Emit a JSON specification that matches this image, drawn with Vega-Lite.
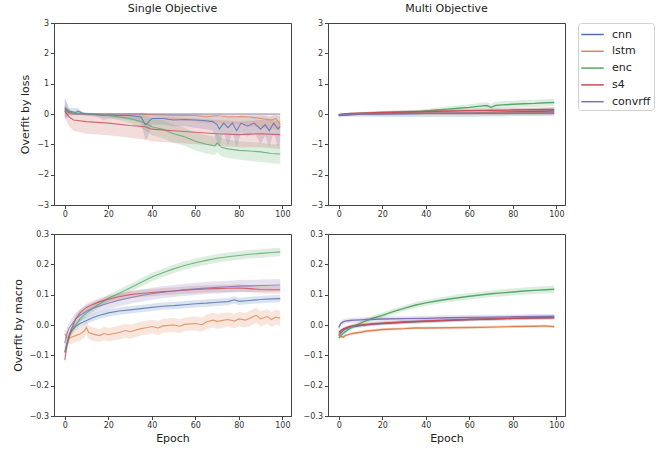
{
"$schema": "https://vega.github.io/schema/vega-lite/v6.json",
"padding": {"left": 11, "top": 2, "right": 5, "bottom": 5},
"background": "white",
"data": {"values": [
{"p":"sl","m":"cnn","e":0,"y":0.2,"lo":-0.15,"hi":0.5},
{"p":"sl","m":"cnn","e":2,"y":0.1,"lo":0.0,"hi":0.2},
{"p":"sl","m":"cnn","e":5,"y":0.05,"lo":-0.02,"hi":0.2},
{"p":"sl","m":"cnn","e":6,"y":0.1,"lo":0.0,"hi":0.2},
{"p":"sl","m":"cnn","e":8,"y":0.03,"lo":-0.03,"hi":0.08},
{"p":"sl","m":"cnn","e":10,"y":0.0,"lo":-0.05,"hi":0.05},
{"p":"sl","m":"cnn","e":15,"y":-0.02,"lo":-0.1,"hi":0.03},
{"p":"sl","m":"cnn","e":18,"y":-0.05,"lo":-0.2,"hi":0.02},
{"p":"sl","m":"cnn","e":20,"y":-0.03,"lo":-0.15,"hi":0.03},
{"p":"sl","m":"cnn","e":25,"y":-0.05,"lo":-0.15,"hi":0.02},
{"p":"sl","m":"cnn","e":30,"y":-0.05,"lo":-0.2,"hi":0.02},
{"p":"sl","m":"cnn","e":35,"y":-0.1,"lo":-0.3,"hi":0.03},
{"p":"sl","m":"cnn","e":37,"y":-0.35,"lo":-0.85,"hi":0.03},
{"p":"sl","m":"cnn","e":38,"y":-0.3,"lo":-0.8,"hi":0.0},
{"p":"sl","m":"cnn","e":40,"y":-0.15,"lo":-0.35,"hi":0.0},
{"p":"sl","m":"cnn","e":45,"y":-0.15,"lo":-0.35,"hi":0.0},
{"p":"sl","m":"cnn","e":50,"y":-0.2,"lo":-0.4,"hi":0.0},
{"p":"sl","m":"cnn","e":55,"y":-0.18,"lo":-0.4,"hi":0.0},
{"p":"sl","m":"cnn","e":60,"y":-0.2,"lo":-0.45,"hi":-0.02},
{"p":"sl","m":"cnn","e":65,"y":-0.22,"lo":-0.5,"hi":-0.02},
{"p":"sl","m":"cnn","e":68,"y":-0.25,"lo":-0.55,"hi":-0.03},
{"p":"sl","m":"cnn","e":70,"y":-0.35,"lo":-0.9,"hi":-0.05},
{"p":"sl","m":"cnn","e":71,"y":-0.5,"lo":-1.1,"hi":-0.1},
{"p":"sl","m":"cnn","e":73,"y":-0.3,"lo":-0.6,"hi":-0.05},
{"p":"sl","m":"cnn","e":75,"y":-0.45,"lo":-1.05,"hi":-0.05},
{"p":"sl","m":"cnn","e":77,"y":-0.3,"lo":-0.6,"hi":-0.05},
{"p":"sl","m":"cnn","e":79,"y":-0.55,"lo":-1.1,"hi":-0.1},
{"p":"sl","m":"cnn","e":81,"y":-0.3,"lo":-0.6,"hi":-0.05},
{"p":"sl","m":"cnn","e":84,"y":-0.4,"lo":-0.75,"hi":-0.05},
{"p":"sl","m":"cnn","e":87,"y":-0.3,"lo":-0.6,"hi":-0.05},
{"p":"sl","m":"cnn","e":90,"y":-0.5,"lo":-1.0,"hi":-0.05},
{"p":"sl","m":"cnn","e":92,"y":-0.35,"lo":-0.7,"hi":-0.05},
{"p":"sl","m":"cnn","e":94,"y":-0.55,"lo":-1.1,"hi":-0.1},
{"p":"sl","m":"cnn","e":96,"y":-0.3,"lo":-0.6,"hi":-0.05},
{"p":"sl","m":"cnn","e":98,"y":-0.5,"lo":-1.1,"hi":-0.05},
{"p":"sl","m":"cnn","e":99,"y":-0.4,"lo":-0.9,"hi":0.0},
{"p":"sl","m":"lstm","e":0,"y":0.1,"lo":-0.05,"hi":0.25},
{"p":"sl","m":"lstm","e":3,"y":0.0,"lo":-0.05,"hi":0.05},
{"p":"sl","m":"lstm","e":10,"y":0.0,"lo":-0.05,"hi":0.03},
{"p":"sl","m":"lstm","e":20,"y":0.0,"lo":-0.05,"hi":0.02},
{"p":"sl","m":"lstm","e":30,"y":0.0,"lo":-0.08,"hi":0.02},
{"p":"sl","m":"lstm","e":40,"y":-0.02,"lo":-0.1,"hi":0.02},
{"p":"sl","m":"lstm","e":50,"y":-0.05,"lo":-0.2,"hi":0.02},
{"p":"sl","m":"lstm","e":60,"y":-0.05,"lo":-0.25,"hi":0.02},
{"p":"sl","m":"lstm","e":65,"y":-0.1,"lo":-0.3,"hi":0.0},
{"p":"sl","m":"lstm","e":70,"y":-0.05,"lo":-0.3,"hi":0.02},
{"p":"sl","m":"lstm","e":75,"y":-0.1,"lo":-0.35,"hi":0.0},
{"p":"sl","m":"lstm","e":80,"y":-0.08,"lo":-0.35,"hi":0.0},
{"p":"sl","m":"lstm","e":85,"y":-0.1,"lo":-0.4,"hi":0.0},
{"p":"sl","m":"lstm","e":90,"y":-0.15,"lo":-0.45,"hi":0.0},
{"p":"sl","m":"lstm","e":95,"y":-0.2,"lo":-0.5,"hi":0.0},
{"p":"sl","m":"lstm","e":97,"y":-0.15,"lo":-0.5,"hi":0.0},
{"p":"sl","m":"lstm","e":99,"y":-0.35,"lo":-0.55,"hi":-0.1},
{"p":"sl","m":"enc","e":0,"y":0.15,"lo":0.0,"hi":0.3},
{"p":"sl","m":"enc","e":3,"y":0.05,"lo":0.0,"hi":0.1},
{"p":"sl","m":"enc","e":10,"y":0.0,"lo":-0.05,"hi":0.03},
{"p":"sl","m":"enc","e":20,"y":-0.05,"lo":-0.12,"hi":0.0},
{"p":"sl","m":"enc","e":30,"y":-0.15,"lo":-0.3,"hi":-0.02},
{"p":"sl","m":"enc","e":35,"y":-0.25,"lo":-0.45,"hi":-0.05},
{"p":"sl","m":"enc","e":38,"y":-0.35,"lo":-0.6,"hi":-0.1},
{"p":"sl","m":"enc","e":40,"y":-0.42,"lo":-0.7,"hi":-0.15},
{"p":"sl","m":"enc","e":45,"y":-0.5,"lo":-0.8,"hi":-0.2},
{"p":"sl","m":"enc","e":50,"y":-0.65,"lo":-0.95,"hi":-0.35},
{"p":"sl","m":"enc","e":55,"y":-0.75,"lo":-1.05,"hi":-0.45},
{"p":"sl","m":"enc","e":60,"y":-0.9,"lo":-1.2,"hi":-0.6},
{"p":"sl","m":"enc","e":65,"y":-1.0,"lo":-1.3,"hi":-0.7},
{"p":"sl","m":"enc","e":69,"y":-1.05,"lo":-1.35,"hi":-0.75},
{"p":"sl","m":"enc","e":70,"y":-0.95,"lo":-1.25,"hi":-0.65},
{"p":"sl","m":"enc","e":72,"y":-1.1,"lo":-1.4,"hi":-0.8},
{"p":"sl","m":"enc","e":75,"y":-1.15,"lo":-1.45,"hi":-0.85},
{"p":"sl","m":"enc","e":80,"y":-1.2,"lo":-1.5,"hi":-0.9},
{"p":"sl","m":"enc","e":85,"y":-1.22,"lo":-1.55,"hi":-0.92},
{"p":"sl","m":"enc","e":90,"y":-1.25,"lo":-1.58,"hi":-0.95},
{"p":"sl","m":"enc","e":95,"y":-1.3,"lo":-1.62,"hi":-1.0},
{"p":"sl","m":"enc","e":99,"y":-1.32,"lo":-1.65,"hi":-1.0},
{"p":"sl","m":"s4","e":0,"y":0.1,"lo":-0.1,"hi":0.3},
{"p":"sl","m":"s4","e":2,"y":-0.1,"lo":-0.4,"hi":0.05},
{"p":"sl","m":"s4","e":4,"y":-0.2,"lo":-0.55,"hi":0.0},
{"p":"sl","m":"s4","e":10,"y":-0.25,"lo":-0.65,"hi":-0.02},
{"p":"sl","m":"s4","e":20,"y":-0.3,"lo":-0.7,"hi":-0.03},
{"p":"sl","m":"s4","e":30,"y":-0.38,"lo":-0.78,"hi":-0.05},
{"p":"sl","m":"s4","e":37,"y":-0.42,"lo":-0.85,"hi":-0.05},
{"p":"sl","m":"s4","e":40,"y":-0.5,"lo":-0.9,"hi":-0.08},
{"p":"sl","m":"s4","e":50,"y":-0.55,"lo":-0.95,"hi":-0.1},
{"p":"sl","m":"s4","e":60,"y":-0.6,"lo":-1.0,"hi":-0.15},
{"p":"sl","m":"s4","e":70,"y":-0.65,"lo":-1.05,"hi":-0.2},
{"p":"sl","m":"s4","e":80,"y":-0.68,"lo":-1.1,"hi":-0.25},
{"p":"sl","m":"s4","e":90,"y":-0.65,"lo":-1.1,"hi":-0.2},
{"p":"sl","m":"s4","e":99,"y":-0.68,"lo":-1.15,"hi":-0.22},
{"p":"sl","m":"convrff","e":0,"y":0.15,"lo":-0.2,"hi":0.55},
{"p":"sl","m":"convrff","e":2,"y":0.05,"lo":-0.05,"hi":0.15},
{"p":"sl","m":"convrff","e":5,"y":0.0,"lo":-0.02,"hi":0.03},
{"p":"sl","m":"convrff","e":20,"y":0.0,"lo":-0.01,"hi":0.01},
{"p":"sl","m":"convrff","e":40,"y":0.0,"lo":-0.01,"hi":0.01},
{"p":"sl","m":"convrff","e":60,"y":0.0,"lo":-0.01,"hi":0.01},
{"p":"sl","m":"convrff","e":80,"y":0.0,"lo":-0.01,"hi":0.01},
{"p":"sl","m":"convrff","e":99,"y":0.0,"lo":-0.01,"hi":0.01},

{"p":"ml","m":"cnn","e":0,"y":-0.05,"lo":-0.1,"hi":0.0},
{"p":"ml","m":"cnn","e":10,"y":0.0,"lo":-0.08,"hi":0.06},
{"p":"ml","m":"cnn","e":20,"y":0.01,"lo":-0.1,"hi":0.1},
{"p":"ml","m":"cnn","e":40,"y":0.02,"lo":-0.1,"hi":0.12},
{"p":"ml","m":"cnn","e":60,"y":0.03,"lo":-0.1,"hi":0.13},
{"p":"ml","m":"cnn","e":70,"y":0.05,"lo":-0.08,"hi":0.15},
{"p":"ml","m":"cnn","e":80,"y":0.07,"lo":-0.07,"hi":0.18},
{"p":"ml","m":"cnn","e":90,"y":0.08,"lo":-0.07,"hi":0.2},
{"p":"ml","m":"cnn","e":99,"y":0.1,"lo":-0.06,"hi":0.22},
{"p":"ml","m":"lstm","e":0,"y":-0.02,"lo":-0.05,"hi":0.01},
{"p":"ml","m":"lstm","e":20,"y":0.02,"lo":-0.03,"hi":0.06},
{"p":"ml","m":"lstm","e":40,"y":0.03,"lo":-0.03,"hi":0.08},
{"p":"ml","m":"lstm","e":60,"y":0.03,"lo":-0.03,"hi":0.08},
{"p":"ml","m":"lstm","e":80,"y":0.04,"lo":-0.02,"hi":0.1},
{"p":"ml","m":"lstm","e":99,"y":0.05,"lo":-0.02,"hi":0.12},
{"p":"ml","m":"enc","e":0,"y":-0.02,"lo":-0.05,"hi":0.01},
{"p":"ml","m":"enc","e":10,"y":0.02,"lo":-0.01,"hi":0.05},
{"p":"ml","m":"enc","e":20,"y":0.04,"lo":0.0,"hi":0.08},
{"p":"ml","m":"enc","e":30,"y":0.06,"lo":0.01,"hi":0.11},
{"p":"ml","m":"enc","e":37,"y":0.08,"lo":0.02,"hi":0.14},
{"p":"ml","m":"enc","e":45,"y":0.13,"lo":0.05,"hi":0.21},
{"p":"ml","m":"enc","e":50,"y":0.16,"lo":0.07,"hi":0.25},
{"p":"ml","m":"enc","e":55,"y":0.19,"lo":0.09,"hi":0.29},
{"p":"ml","m":"enc","e":60,"y":0.22,"lo":0.11,"hi":0.32},
{"p":"ml","m":"enc","e":65,"y":0.26,"lo":0.14,"hi":0.37},
{"p":"ml","m":"enc","e":68,"y":0.28,"lo":0.16,"hi":0.39},
{"p":"ml","m":"enc","e":70,"y":0.22,"lo":0.11,"hi":0.33},
{"p":"ml","m":"enc","e":72,"y":0.28,"lo":0.16,"hi":0.4},
{"p":"ml","m":"enc","e":75,"y":0.3,"lo":0.18,"hi":0.42},
{"p":"ml","m":"enc","e":80,"y":0.32,"lo":0.2,"hi":0.44},
{"p":"ml","m":"enc","e":85,"y":0.34,"lo":0.22,"hi":0.46},
{"p":"ml","m":"enc","e":90,"y":0.35,"lo":0.23,"hi":0.47},
{"p":"ml","m":"enc","e":95,"y":0.37,"lo":0.25,"hi":0.49},
{"p":"ml","m":"enc","e":99,"y":0.38,"lo":0.26,"hi":0.5},
{"p":"ml","m":"s4","e":0,"y":-0.02,"lo":-0.05,"hi":0.01},
{"p":"ml","m":"s4","e":5,"y":0.02,"lo":-0.02,"hi":0.05},
{"p":"ml","m":"s4","e":10,"y":0.03,"lo":-0.01,"hi":0.07},
{"p":"ml","m":"s4","e":20,"y":0.05,"lo":0.0,"hi":0.1},
{"p":"ml","m":"s4","e":40,"y":0.08,"lo":0.02,"hi":0.14},
{"p":"ml","m":"s4","e":60,"y":0.11,"lo":0.04,"hi":0.18},
{"p":"ml","m":"s4","e":80,"y":0.13,"lo":0.06,"hi":0.2},
{"p":"ml","m":"s4","e":99,"y":0.15,"lo":0.08,"hi":0.22},
{"p":"ml","m":"convrff","e":0,"y":-0.03,"lo":-0.06,"hi":0.0},
{"p":"ml","m":"convrff","e":10,"y":0.0,"lo":-0.05,"hi":0.04},
{"p":"ml","m":"convrff","e":40,"y":0.02,"lo":-0.04,"hi":0.07},
{"p":"ml","m":"convrff","e":70,"y":0.02,"lo":-0.04,"hi":0.08},
{"p":"ml","m":"convrff","e":99,"y":0.03,"lo":-0.04,"hi":0.09},

{"p":"sm","m":"cnn","e":0,"y":-0.09,"lo":-0.105,"hi":-0.075},
{"p":"sm","m":"cnn","e":1,"y":-0.06,"lo":-0.073,"hi":-0.047},
{"p":"sm","m":"cnn","e":2,"y":-0.035,"lo":-0.047,"hi":-0.023},
{"p":"sm","m":"cnn","e":3,"y":-0.02,"lo":-0.032,"hi":-0.008},
{"p":"sm","m":"cnn","e":5,"y":-0.005,"lo":-0.017,"hi":0.007},
{"p":"sm","m":"cnn","e":7,"y":0.005,"lo":-0.007,"hi":0.017},
{"p":"sm","m":"cnn","e":10,"y":0.015,"lo":0.003,"hi":0.027},
{"p":"sm","m":"cnn","e":13,"y":0.025,"lo":0.013,"hi":0.037},
{"p":"sm","m":"cnn","e":16,"y":0.032,"lo":0.02,"hi":0.044},
{"p":"sm","m":"cnn","e":20,"y":0.04,"lo":0.028,"hi":0.052},
{"p":"sm","m":"cnn","e":25,"y":0.046,"lo":0.034,"hi":0.058},
{"p":"sm","m":"cnn","e":30,"y":0.05,"lo":0.038,"hi":0.062},
{"p":"sm","m":"cnn","e":35,"y":0.054,"lo":0.042,"hi":0.066},
{"p":"sm","m":"cnn","e":40,"y":0.058,"lo":0.046,"hi":0.07},
{"p":"sm","m":"cnn","e":45,"y":0.062,"lo":0.05,"hi":0.074},
{"p":"sm","m":"cnn","e":50,"y":0.064,"lo":0.052,"hi":0.076},
{"p":"sm","m":"cnn","e":55,"y":0.067,"lo":0.055,"hi":0.079},
{"p":"sm","m":"cnn","e":60,"y":0.07,"lo":0.058,"hi":0.082},
{"p":"sm","m":"cnn","e":65,"y":0.072,"lo":0.06,"hi":0.084},
{"p":"sm","m":"cnn","e":70,"y":0.075,"lo":0.063,"hi":0.087},
{"p":"sm","m":"cnn","e":75,"y":0.077,"lo":0.065,"hi":0.089},
{"p":"sm","m":"cnn","e":78,"y":0.083,"lo":0.071,"hi":0.095},
{"p":"sm","m":"cnn","e":80,"y":0.078,"lo":0.066,"hi":0.09},
{"p":"sm","m":"cnn","e":85,"y":0.081,"lo":0.069,"hi":0.093},
{"p":"sm","m":"cnn","e":90,"y":0.084,"lo":0.072,"hi":0.096},
{"p":"sm","m":"cnn","e":95,"y":0.086,"lo":0.074,"hi":0.098},
{"p":"sm","m":"cnn","e":99,"y":0.087,"lo":0.075,"hi":0.099},
{"p":"sm","m":"lstm","e":0,"y":-0.03,"lo":-0.045,"hi":-0.015},
{"p":"sm","m":"lstm","e":1,"y":-0.04,"lo":-0.058,"hi":-0.022},
{"p":"sm","m":"lstm","e":2,"y":-0.045,"lo":-0.065,"hi":-0.025},
{"p":"sm","m":"lstm","e":3,"y":-0.04,"lo":-0.062,"hi":-0.018},
{"p":"sm","m":"lstm","e":5,"y":-0.035,"lo":-0.057,"hi":-0.013},
{"p":"sm","m":"lstm","e":7,"y":-0.03,"lo":-0.052,"hi":-0.008},
{"p":"sm","m":"lstm","e":9,"y":-0.02,"lo":-0.042,"hi":0.002},
{"p":"sm","m":"lstm","e":10,"y":-0.008,"lo":-0.03,"hi":0.014},
{"p":"sm","m":"lstm","e":11,"y":-0.025,"lo":-0.047,"hi":-0.003},
{"p":"sm","m":"lstm","e":13,"y":-0.03,"lo":-0.052,"hi":-0.008},
{"p":"sm","m":"lstm","e":16,"y":-0.035,"lo":-0.057,"hi":-0.013},
{"p":"sm","m":"lstm","e":18,"y":-0.028,"lo":-0.05,"hi":-0.006},
{"p":"sm","m":"lstm","e":20,"y":-0.032,"lo":-0.054,"hi":-0.01},
{"p":"sm","m":"lstm","e":25,"y":-0.025,"lo":-0.048,"hi":-0.002},
{"p":"sm","m":"lstm","e":28,"y":-0.018,"lo":-0.041,"hi":0.005},
{"p":"sm","m":"lstm","e":30,"y":-0.022,"lo":-0.045,"hi":0.001},
{"p":"sm","m":"lstm","e":35,"y":-0.012,"lo":-0.035,"hi":0.011},
{"p":"sm","m":"lstm","e":38,"y":-0.008,"lo":-0.031,"hi":0.015},
{"p":"sm","m":"lstm","e":40,"y":-0.005,"lo":-0.028,"hi":0.018},
{"p":"sm","m":"lstm","e":43,"y":-0.01,"lo":-0.033,"hi":0.013},
{"p":"sm","m":"lstm","e":45,"y":-0.003,"lo":-0.026,"hi":0.02},
{"p":"sm","m":"lstm","e":50,"y":0.0,"lo":-0.023,"hi":0.023},
{"p":"sm","m":"lstm","e":53,"y":-0.004,"lo":-0.027,"hi":0.019},
{"p":"sm","m":"lstm","e":55,"y":0.002,"lo":-0.021,"hi":0.025},
{"p":"sm","m":"lstm","e":60,"y":0.005,"lo":-0.018,"hi":0.028},
{"p":"sm","m":"lstm","e":63,"y":0.001,"lo":-0.022,"hi":0.024},
{"p":"sm","m":"lstm","e":65,"y":0.01,"lo":-0.014,"hi":0.034},
{"p":"sm","m":"lstm","e":68,"y":0.016,"lo":-0.008,"hi":0.04},
{"p":"sm","m":"lstm","e":70,"y":0.012,"lo":-0.012,"hi":0.036},
{"p":"sm","m":"lstm","e":75,"y":0.018,"lo":-0.006,"hi":0.042},
{"p":"sm","m":"lstm","e":78,"y":0.013,"lo":-0.011,"hi":0.037},
{"p":"sm","m":"lstm","e":80,"y":0.02,"lo":-0.004,"hi":0.044},
{"p":"sm","m":"lstm","e":83,"y":0.016,"lo":-0.008,"hi":0.04},
{"p":"sm","m":"lstm","e":85,"y":0.022,"lo":-0.003,"hi":0.047},
{"p":"sm","m":"lstm","e":88,"y":0.032,"lo":0.007,"hi":0.057},
{"p":"sm","m":"lstm","e":90,"y":0.02,"lo":-0.005,"hi":0.045},
{"p":"sm","m":"lstm","e":93,"y":0.028,"lo":0.003,"hi":0.053},
{"p":"sm","m":"lstm","e":95,"y":0.018,"lo":-0.007,"hi":0.043},
{"p":"sm","m":"lstm","e":97,"y":0.026,"lo":0.001,"hi":0.051},
{"p":"sm","m":"lstm","e":99,"y":0.022,"lo":-0.003,"hi":0.047},
{"p":"sm","m":"enc","e":0,"y":-0.09,"lo":-0.1,"hi":-0.08},
{"p":"sm","m":"enc","e":1,"y":-0.06,"lo":-0.07,"hi":-0.05},
{"p":"sm","m":"enc","e":2,"y":-0.04,"lo":-0.05,"hi":-0.03},
{"p":"sm","m":"enc","e":3,"y":-0.02,"lo":-0.03,"hi":-0.01},
{"p":"sm","m":"enc","e":5,"y":0.0,"lo":-0.01,"hi":0.01},
{"p":"sm","m":"enc","e":7,"y":0.02,"lo":0.01,"hi":0.03},
{"p":"sm","m":"enc","e":10,"y":0.04,"lo":0.029,"hi":0.051},
{"p":"sm","m":"enc","e":13,"y":0.055,"lo":0.044,"hi":0.066},
{"p":"sm","m":"enc","e":16,"y":0.07,"lo":0.058,"hi":0.082},
{"p":"sm","m":"enc","e":20,"y":0.088,"lo":0.076,"hi":0.1},
{"p":"sm","m":"enc","e":25,"y":0.105,"lo":0.092,"hi":0.118},
{"p":"sm","m":"enc","e":30,"y":0.122,"lo":0.109,"hi":0.135},
{"p":"sm","m":"enc","e":35,"y":0.14,"lo":0.127,"hi":0.153},
{"p":"sm","m":"enc","e":40,"y":0.158,"lo":0.144,"hi":0.172},
{"p":"sm","m":"enc","e":45,"y":0.172,"lo":0.158,"hi":0.186},
{"p":"sm","m":"enc","e":50,"y":0.185,"lo":0.171,"hi":0.199},
{"p":"sm","m":"enc","e":55,"y":0.196,"lo":0.182,"hi":0.21},
{"p":"sm","m":"enc","e":60,"y":0.205,"lo":0.191,"hi":0.219},
{"p":"sm","m":"enc","e":65,"y":0.213,"lo":0.199,"hi":0.227},
{"p":"sm","m":"enc","e":70,"y":0.22,"lo":0.206,"hi":0.234},
{"p":"sm","m":"enc","e":75,"y":0.225,"lo":0.211,"hi":0.239},
{"p":"sm","m":"enc","e":80,"y":0.229,"lo":0.215,"hi":0.243},
{"p":"sm","m":"enc","e":85,"y":0.233,"lo":0.219,"hi":0.247},
{"p":"sm","m":"enc","e":90,"y":0.236,"lo":0.222,"hi":0.25},
{"p":"sm","m":"enc","e":95,"y":0.239,"lo":0.225,"hi":0.253},
{"p":"sm","m":"enc","e":99,"y":0.241,"lo":0.227,"hi":0.255},
{"p":"sm","m":"s4","e":0,"y":-0.115,"lo":-0.13,"hi":-0.1},
{"p":"sm","m":"s4","e":1,"y":-0.07,"lo":-0.083,"hi":-0.057},
{"p":"sm","m":"s4","e":2,"y":-0.04,"lo":-0.053,"hi":-0.027},
{"p":"sm","m":"s4","e":3,"y":-0.015,"lo":-0.027,"hi":-0.003},
{"p":"sm","m":"s4","e":5,"y":0.02,"lo":0.008,"hi":0.032},
{"p":"sm","m":"s4","e":7,"y":0.04,"lo":0.028,"hi":0.052},
{"p":"sm","m":"s4","e":10,"y":0.058,"lo":0.046,"hi":0.07},
{"p":"sm","m":"s4","e":13,"y":0.068,"lo":0.056,"hi":0.08},
{"p":"sm","m":"s4","e":16,"y":0.077,"lo":0.065,"hi":0.089},
{"p":"sm","m":"s4","e":20,"y":0.085,"lo":0.073,"hi":0.097},
{"p":"sm","m":"s4","e":25,"y":0.093,"lo":0.081,"hi":0.105},
{"p":"sm","m":"s4","e":30,"y":0.1,"lo":0.088,"hi":0.112},
{"p":"sm","m":"s4","e":35,"y":0.104,"lo":0.092,"hi":0.116},
{"p":"sm","m":"s4","e":40,"y":0.107,"lo":0.095,"hi":0.119},
{"p":"sm","m":"s4","e":45,"y":0.11,"lo":0.098,"hi":0.122},
{"p":"sm","m":"s4","e":50,"y":0.112,"lo":0.1,"hi":0.124},
{"p":"sm","m":"s4","e":55,"y":0.115,"lo":0.103,"hi":0.127},
{"p":"sm","m":"s4","e":60,"y":0.117,"lo":0.105,"hi":0.129},
{"p":"sm","m":"s4","e":65,"y":0.119,"lo":0.107,"hi":0.131},
{"p":"sm","m":"s4","e":70,"y":0.12,"lo":0.108,"hi":0.132},
{"p":"sm","m":"s4","e":75,"y":0.121,"lo":0.109,"hi":0.133},
{"p":"sm","m":"s4","e":80,"y":0.122,"lo":0.11,"hi":0.134},
{"p":"sm","m":"s4","e":85,"y":0.12,"lo":0.108,"hi":0.132},
{"p":"sm","m":"s4","e":90,"y":0.117,"lo":0.105,"hi":0.129},
{"p":"sm","m":"s4","e":95,"y":0.116,"lo":0.104,"hi":0.128},
{"p":"sm","m":"s4","e":99,"y":0.116,"lo":0.104,"hi":0.128},
{"p":"sm","m":"convrff","e":0,"y":-0.06,"lo":-0.08,"hi":-0.04},
{"p":"sm","m":"convrff","e":1,"y":-0.03,"lo":-0.05,"hi":-0.01},
{"p":"sm","m":"convrff","e":2,"y":-0.01,"lo":-0.03,"hi":0.01},
{"p":"sm","m":"convrff","e":3,"y":0.0,"lo":-0.02,"hi":0.02},
{"p":"sm","m":"convrff","e":5,"y":0.02,"lo":0.0,"hi":0.04},
{"p":"sm","m":"convrff","e":7,"y":0.032,"lo":0.012,"hi":0.052},
{"p":"sm","m":"convrff","e":10,"y":0.045,"lo":0.025,"hi":0.065},
{"p":"sm","m":"convrff","e":13,"y":0.055,"lo":0.035,"hi":0.075},
{"p":"sm","m":"convrff","e":16,"y":0.063,"lo":0.043,"hi":0.083},
{"p":"sm","m":"convrff","e":20,"y":0.072,"lo":0.052,"hi":0.092},
{"p":"sm","m":"convrff","e":25,"y":0.082,"lo":0.062,"hi":0.102},
{"p":"sm","m":"convrff","e":30,"y":0.09,"lo":0.07,"hi":0.11},
{"p":"sm","m":"convrff","e":35,"y":0.097,"lo":0.077,"hi":0.117},
{"p":"sm","m":"convrff","e":40,"y":0.103,"lo":0.083,"hi":0.123},
{"p":"sm","m":"convrff","e":45,"y":0.108,"lo":0.088,"hi":0.128},
{"p":"sm","m":"convrff","e":50,"y":0.112,"lo":0.092,"hi":0.132},
{"p":"sm","m":"convrff","e":55,"y":0.116,"lo":0.096,"hi":0.136},
{"p":"sm","m":"convrff","e":60,"y":0.119,"lo":0.099,"hi":0.139},
{"p":"sm","m":"convrff","e":65,"y":0.122,"lo":0.102,"hi":0.142},
{"p":"sm","m":"convrff","e":70,"y":0.124,"lo":0.104,"hi":0.144},
{"p":"sm","m":"convrff","e":75,"y":0.126,"lo":0.106,"hi":0.146},
{"p":"sm","m":"convrff","e":80,"y":0.128,"lo":0.108,"hi":0.148},
{"p":"sm","m":"convrff","e":85,"y":0.129,"lo":0.109,"hi":0.149},
{"p":"sm","m":"convrff","e":90,"y":0.13,"lo":0.11,"hi":0.15},
{"p":"sm","m":"convrff","e":95,"y":0.131,"lo":0.111,"hi":0.151},
{"p":"sm","m":"convrff","e":99,"y":0.132,"lo":0.112,"hi":0.152},

{"p":"mm","m":"cnn","e":0,"y":-0.035,"lo":-0.041,"hi":-0.029},
{"p":"mm","m":"cnn","e":1,"y":-0.025,"lo":-0.031,"hi":-0.019},
{"p":"mm","m":"cnn","e":2,"y":-0.018,"lo":-0.024,"hi":-0.012},
{"p":"mm","m":"cnn","e":3,"y":-0.013,"lo":-0.019,"hi":-0.007},
{"p":"mm","m":"cnn","e":5,"y":-0.008,"lo":-0.014,"hi":-0.002},
{"p":"mm","m":"cnn","e":7,"y":-0.005,"lo":-0.011,"hi":0.001},
{"p":"mm","m":"cnn","e":10,"y":-0.002,"lo":-0.008,"hi":0.004},
{"p":"mm","m":"cnn","e":13,"y":0.001,"lo":-0.005,"hi":0.007},
{"p":"mm","m":"cnn","e":16,"y":0.003,"lo":-0.003,"hi":0.009},
{"p":"mm","m":"cnn","e":20,"y":0.005,"lo":-0.001,"hi":0.011},
{"p":"mm","m":"cnn","e":30,"y":0.009,"lo":0.003,"hi":0.015},
{"p":"mm","m":"cnn","e":40,"y":0.012,"lo":0.006,"hi":0.018},
{"p":"mm","m":"cnn","e":50,"y":0.015,"lo":0.009,"hi":0.021},
{"p":"mm","m":"cnn","e":60,"y":0.018,"lo":0.012,"hi":0.024},
{"p":"mm","m":"cnn","e":70,"y":0.02,"lo":0.014,"hi":0.026},
{"p":"mm","m":"cnn","e":80,"y":0.022,"lo":0.016,"hi":0.028},
{"p":"mm","m":"cnn","e":90,"y":0.024,"lo":0.018,"hi":0.03},
{"p":"mm","m":"cnn","e":99,"y":0.025,"lo":0.019,"hi":0.031},
{"p":"mm","m":"lstm","e":0,"y":-0.028,"lo":-0.033,"hi":-0.023},
{"p":"mm","m":"lstm","e":1,"y":-0.038,"lo":-0.043,"hi":-0.033},
{"p":"mm","m":"lstm","e":2,"y":-0.04,"lo":-0.045,"hi":-0.035},
{"p":"mm","m":"lstm","e":3,"y":-0.035,"lo":-0.04,"hi":-0.03},
{"p":"mm","m":"lstm","e":5,"y":-0.03,"lo":-0.035,"hi":-0.025},
{"p":"mm","m":"lstm","e":7,"y":-0.027,"lo":-0.032,"hi":-0.022},
{"p":"mm","m":"lstm","e":10,"y":-0.024,"lo":-0.029,"hi":-0.019},
{"p":"mm","m":"lstm","e":13,"y":-0.02,"lo":-0.025,"hi":-0.015},
{"p":"mm","m":"lstm","e":16,"y":-0.018,"lo":-0.023,"hi":-0.013},
{"p":"mm","m":"lstm","e":20,"y":-0.015,"lo":-0.02,"hi":-0.01},
{"p":"mm","m":"lstm","e":25,"y":-0.013,"lo":-0.018,"hi":-0.008},
{"p":"mm","m":"lstm","e":30,"y":-0.012,"lo":-0.017,"hi":-0.007},
{"p":"mm","m":"lstm","e":35,"y":-0.01,"lo":-0.015,"hi":-0.005},
{"p":"mm","m":"lstm","e":40,"y":-0.01,"lo":-0.015,"hi":-0.005},
{"p":"mm","m":"lstm","e":50,"y":-0.009,"lo":-0.014,"hi":-0.004},
{"p":"mm","m":"lstm","e":60,"y":-0.008,"lo":-0.013,"hi":-0.003},
{"p":"mm","m":"lstm","e":70,"y":-0.007,"lo":-0.012,"hi":-0.002},
{"p":"mm","m":"lstm","e":80,"y":-0.005,"lo":-0.01,"hi":0.0},
{"p":"mm","m":"lstm","e":90,"y":-0.004,"lo":-0.009,"hi":0.001},
{"p":"mm","m":"lstm","e":95,"y":-0.003,"lo":-0.008,"hi":0.002},
{"p":"mm","m":"lstm","e":99,"y":-0.006,"lo":-0.011,"hi":-0.001},
{"p":"mm","m":"enc","e":0,"y":-0.043,"lo":-0.05,"hi":-0.036},
{"p":"mm","m":"enc","e":1,"y":-0.035,"lo":-0.042,"hi":-0.028},
{"p":"mm","m":"enc","e":2,"y":-0.028,"lo":-0.035,"hi":-0.021},
{"p":"mm","m":"enc","e":3,"y":-0.022,"lo":-0.029,"hi":-0.015},
{"p":"mm","m":"enc","e":5,"y":-0.012,"lo":-0.019,"hi":-0.005},
{"p":"mm","m":"enc","e":7,"y":-0.004,"lo":-0.011,"hi":0.003},
{"p":"mm","m":"enc","e":10,"y":0.006,"lo":-0.002,"hi":0.014},
{"p":"mm","m":"enc","e":13,"y":0.015,"lo":0.007,"hi":0.023},
{"p":"mm","m":"enc","e":16,"y":0.023,"lo":0.015,"hi":0.031},
{"p":"mm","m":"enc","e":20,"y":0.032,"lo":0.023,"hi":0.041},
{"p":"mm","m":"enc","e":25,"y":0.044,"lo":0.035,"hi":0.053},
{"p":"mm","m":"enc","e":30,"y":0.055,"lo":0.046,"hi":0.064},
{"p":"mm","m":"enc","e":35,"y":0.065,"lo":0.055,"hi":0.075},
{"p":"mm","m":"enc","e":40,"y":0.073,"lo":0.063,"hi":0.083},
{"p":"mm","m":"enc","e":45,"y":0.079,"lo":0.069,"hi":0.089},
{"p":"mm","m":"enc","e":50,"y":0.085,"lo":0.075,"hi":0.095},
{"p":"mm","m":"enc","e":55,"y":0.09,"lo":0.079,"hi":0.101},
{"p":"mm","m":"enc","e":60,"y":0.095,"lo":0.084,"hi":0.106},
{"p":"mm","m":"enc","e":65,"y":0.099,"lo":0.088,"hi":0.11},
{"p":"mm","m":"enc","e":70,"y":0.103,"lo":0.092,"hi":0.114},
{"p":"mm","m":"enc","e":75,"y":0.106,"lo":0.094,"hi":0.118},
{"p":"mm","m":"enc","e":80,"y":0.109,"lo":0.097,"hi":0.121},
{"p":"mm","m":"enc","e":85,"y":0.112,"lo":0.1,"hi":0.124},
{"p":"mm","m":"enc","e":90,"y":0.114,"lo":0.102,"hi":0.126},
{"p":"mm","m":"enc","e":95,"y":0.116,"lo":0.104,"hi":0.128},
{"p":"mm","m":"enc","e":99,"y":0.118,"lo":0.106,"hi":0.13},
{"p":"mm","m":"s4","e":0,"y":-0.025,"lo":-0.031,"hi":-0.019},
{"p":"mm","m":"s4","e":1,"y":-0.018,"lo":-0.024,"hi":-0.012},
{"p":"mm","m":"s4","e":2,"y":-0.013,"lo":-0.019,"hi":-0.007},
{"p":"mm","m":"s4","e":3,"y":-0.01,"lo":-0.016,"hi":-0.004},
{"p":"mm","m":"s4","e":5,"y":-0.005,"lo":-0.011,"hi":0.001},
{"p":"mm","m":"s4","e":7,"y":-0.002,"lo":-0.008,"hi":0.004},
{"p":"mm","m":"s4","e":10,"y":0.0,"lo":-0.006,"hi":0.006},
{"p":"mm","m":"s4","e":13,"y":0.002,"lo":-0.004,"hi":0.008},
{"p":"mm","m":"s4","e":16,"y":0.004,"lo":-0.002,"hi":0.01},
{"p":"mm","m":"s4","e":20,"y":0.006,"lo":0.0,"hi":0.012},
{"p":"mm","m":"s4","e":30,"y":0.01,"lo":0.004,"hi":0.016},
{"p":"mm","m":"s4","e":40,"y":0.013,"lo":0.007,"hi":0.019},
{"p":"mm","m":"s4","e":50,"y":0.016,"lo":0.01,"hi":0.022},
{"p":"mm","m":"s4","e":60,"y":0.018,"lo":0.012,"hi":0.024},
{"p":"mm","m":"s4","e":70,"y":0.02,"lo":0.014,"hi":0.026},
{"p":"mm","m":"s4","e":80,"y":0.022,"lo":0.016,"hi":0.028},
{"p":"mm","m":"s4","e":90,"y":0.023,"lo":0.017,"hi":0.029},
{"p":"mm","m":"s4","e":99,"y":0.024,"lo":0.018,"hi":0.03},
{"p":"mm","m":"convrff","e":0,"y":-0.008,"lo":-0.016,"hi":0.0},
{"p":"mm","m":"convrff","e":1,"y":0.005,"lo":-0.003,"hi":0.013},
{"p":"mm","m":"convrff","e":2,"y":0.01,"lo":0.002,"hi":0.018},
{"p":"mm","m":"convrff","e":3,"y":0.013,"lo":0.005,"hi":0.021},
{"p":"mm","m":"convrff","e":5,"y":0.015,"lo":0.007,"hi":0.023},
{"p":"mm","m":"convrff","e":7,"y":0.016,"lo":0.008,"hi":0.024},
{"p":"mm","m":"convrff","e":10,"y":0.017,"lo":0.009,"hi":0.025},
{"p":"mm","m":"convrff","e":13,"y":0.018,"lo":0.01,"hi":0.026},
{"p":"mm","m":"convrff","e":16,"y":0.019,"lo":0.011,"hi":0.027},
{"p":"mm","m":"convrff","e":20,"y":0.02,"lo":0.012,"hi":0.028},
{"p":"mm","m":"convrff","e":30,"y":0.021,"lo":0.013,"hi":0.029},
{"p":"mm","m":"convrff","e":40,"y":0.022,"lo":0.014,"hi":0.03},
{"p":"mm","m":"convrff","e":50,"y":0.024,"lo":0.016,"hi":0.032},
{"p":"mm","m":"convrff","e":60,"y":0.025,"lo":0.017,"hi":0.033},
{"p":"mm","m":"convrff","e":70,"y":0.026,"lo":0.018,"hi":0.034},
{"p":"mm","m":"convrff","e":80,"y":0.027,"lo":0.019,"hi":0.035},
{"p":"mm","m":"convrff","e":90,"y":0.028,"lo":0.02,"hi":0.036},
{"p":"mm","m":"convrff","e":99,"y":0.029,"lo":0.021,"hi":0.037}
]},
"columns": 2,
"spacing": {"row": 10, "column": 10},
"concat": [
{
 "width": 237, "height": 182,
 "title": "Single Objective",
 "transform": [{"filter": "datum.p === 'sl'"}],
 "encoding": {"x": {"field": "e", "type": "quantitative", "scale": {"domain": [-4.95, 103.95], "nice": false, "zero": false}, "axis": {"values": [0,20,40,60,80,100], "title": null}}},
 "layer": [
  {"mark": {"type": "area", "opacity": 0.2, "clip": true},
   "encoding": {"y": {"field": "lo", "type": "quantitative", "scale": {"domain": [-3, 3], "nice": false, "zero": false}, "axis": {"values": [-3,-2,-1,0,1,2,3], "format": "d", "title": "Overfit by loss"}}, "y2": {"field": "hi"},
    "color": {"field": "m", "type": "nominal", "scale": {"domain": ["cnn","lstm","enc","s4","convrff"]}}}},
  {"mark": {"type": "line", "strokeWidth": 1.1, "opacity": 0.8, "clip": true},
   "encoding": {"y": {"field": "y", "type": "quantitative", "axis": {"values": [-3,-2,-1,0,1,2,3], "format": "d", "title": "Overfit by loss"}},
    "color": {"field": "m", "type": "nominal", "scale": {"domain": ["cnn","lstm","enc","s4","convrff"]}}}}
 ]
},
{
 "width": 237, "height": 182,
 "title": "Multi Objective",
 "transform": [{"filter": "datum.p === 'ml'"}],
 "encoding": {"x": {"field": "e", "type": "quantitative", "scale": {"domain": [-4.95, 103.95], "nice": false, "zero": false}, "axis": {"values": [0,20,40,60,80,100], "title": null}}},
 "layer": [
  {"mark": {"type": "area", "opacity": 0.2, "clip": true},
   "encoding": {"y": {"field": "lo", "type": "quantitative", "scale": {"domain": [-3, 3], "nice": false, "zero": false}, "axis": {"values": [-3,-2,-1,0,1,2,3], "format": "d", "title": null}}, "y2": {"field": "hi"},
    "color": {"field": "m", "type": "nominal", "scale": {"domain": ["cnn","lstm","enc","s4","convrff"]}}}},
  {"mark": {"type": "line", "strokeWidth": 1.4, "clip": true},
   "encoding": {"y": {"field": "y", "type": "quantitative", "axis": {"values": [-3,-2,-1,0,1,2,3], "format": "d", "title": null}},
    "color": {"field": "m", "type": "nominal", "scale": {"domain": ["cnn","lstm","enc","s4","convrff"]}}}}
 ]
},
{
 "width": 237, "height": 182,
 "transform": [{"filter": "datum.p === 'sm'"}],
 "encoding": {"x": {"field": "e", "type": "quantitative", "scale": {"domain": [-4.95, 103.95], "nice": false, "zero": false}, "axis": {"values": [0,20,40,60,80,100], "title": "Epoch"}}},
 "layer": [
  {"mark": {"type": "area", "opacity": 0.2, "clip": true},
   "encoding": {"y": {"field": "lo", "type": "quantitative", "scale": {"domain": [-0.3, 0.3], "nice": false, "zero": false}, "axis": {"values": [-0.3,-0.2,-0.1,0,0.1,0.2,0.3], "format": ".1f", "title": "Overfit by macro"}}, "y2": {"field": "hi"},
    "color": {"field": "m", "type": "nominal", "scale": {"domain": ["cnn","lstm","enc","s4","convrff"]}}}},
  {"mark": {"type": "line", "strokeWidth": 1.1, "opacity": 0.8, "clip": true},
   "encoding": {"y": {"field": "y", "type": "quantitative", "axis": {"values": [-0.3,-0.2,-0.1,0,0.1,0.2,0.3], "format": ".1f", "title": "Overfit by macro"}},
    "color": {"field": "m", "type": "nominal", "scale": {"domain": ["cnn","lstm","enc","s4","convrff"]}}}}
 ]
},
{
 "width": 237, "height": 182,
 "transform": [{"filter": "datum.p === 'mm'"}],
 "encoding": {"x": {"field": "e", "type": "quantitative", "scale": {"domain": [-4.95, 103.95], "nice": false, "zero": false}, "axis": {"values": [0,20,40,60,80,100], "title": "Epoch"}}},
 "layer": [
  {"mark": {"type": "area", "opacity": 0.2, "clip": true},
   "encoding": {"y": {"field": "lo", "type": "quantitative", "scale": {"domain": [-0.3, 0.3], "nice": false, "zero": false}, "axis": {"values": [-0.3,-0.2,-0.1,0,0.1,0.2,0.3], "format": ".1f", "title": null}}, "y2": {"field": "hi"},
    "color": {"field": "m", "type": "nominal", "scale": {"domain": ["cnn","lstm","enc","s4","convrff"]}}}},
  {"mark": {"type": "line", "strokeWidth": 1.4, "clip": true},
   "encoding": {"y": {"field": "y", "type": "quantitative", "axis": {"values": [-0.3,-0.2,-0.1,0,0.1,0.2,0.3], "format": ".1f", "title": null}},
    "color": {"field": "m", "type": "nominal", "scale": {"domain": ["cnn","lstm","enc","s4","convrff"]}}}}
 ]
}
],
"resolve": {"scale": {"color": "shared"}},
"config": {
 "font": "DejaVu Sans",
 "view": {"stroke": "#444", "strokeWidth": 1},
 "range": {"category": ["#4C72B0", "#DD8452", "#55A868", "#C44E52", "#8172B3"]},
 "title": {"fontSize": 11, "fontWeight": "normal", "color": "#222", "offset": 5, "font": "DejaVu Sans"},
 "axis": {"grid": false, "domainColor": "#444", "tickColor": "#444", "tickSize": 3.5, "labelFontSize": 8, "labelColor": "#333", "labelPadding": 2, "titleFontSize": 11, "titleFontWeight": "normal", "titleColor": "#222", "labelFont": "DejaVu Sans", "titleFont": "DejaVu Sans"},
 "axisY": {"titlePadding": 6},
 "axisX": {"titlePadding": 3},
 "legend": {"orient": "right", "offset": 12, "title": null, "strokeColor": "#d0d0d0", "cornerRadius": 3, "padding": 3, "symbolType": "M-1.5,0H1.5", "symbolSize": 225, "symbolStrokeWidth": 1.5, "symbolOpacity": 1, "symbolOffset": 3, "labelFontSize": 11, "labelColor": "#222", "labelFont": "DejaVu Sans", "rowPadding": 2.8, "labelOffset": 11}
}
}
